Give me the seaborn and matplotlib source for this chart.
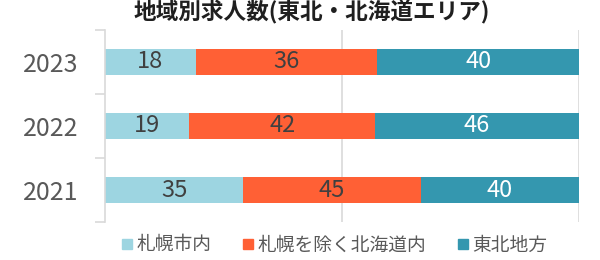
import matplotlib
matplotlib.use("Agg")
import matplotlib.pyplot as plt
import seaborn as sns
import pandas as pd
from matplotlib.lines import Line2D

years = ["2023", "2022", "2021"]
sapporo = [18, 19, 35]
hokkaido_other = [36, 42, 45]
tohoku = [40, 46, 40]
series_names = ["札幌市内", "札幌を除く北海道内", "東北地方"]
colors = ["#9DD5E1", "#FF6035", "#3497AF"]
label_colors = ["#404040", "#404040", "#FFFFFF"]
title = "地域別求人数(東北・北海道エリア)"

sns.set_theme(style="white")
plt.rcParams["font.family"] = ["Noto Sans CJK JP", "DejaVu Sans"]

df = pd.DataFrame({"year": years, "s1": sapporo, "s2": hokkaido_other, "s3": tohoku})
total = df[["s1", "s2", "s3"]].sum(axis=1)
p = df[["s1", "s2", "s3"]].div(total, axis=0) * 100
cum = p.cumsum(axis=1)
df["c1"], df["c2"], df["c3"] = cum["s1"], cum["s2"], cum["s3"]

fig = plt.figure(figsize=(6, 2.6), dpi=100)
ax = fig.add_axes([0.175, 0.146, 0.79, 0.739])

for col, c in zip(["c3", "c2", "c1"], colors[::-1]):
    sns.barplot(data=df, x=col, y="year", order=years, color=c, width=0.41,
                saturation=1, ax=ax, linewidth=0)

# labels
vals = [sapporo, hokkaido_other, tohoku]
starts = [[0] * 3, list(df["c1"]), list(df["c2"])]
ends = [list(df["c1"]), list(df["c2"]), list(df["c3"])]
for k in range(3):
    for i in range(3):
        ax.text((starts[k][i] + ends[k][i]) / 2, i, str(vals[k][i]),
                ha="center", va="center", fontsize=17, color=label_colors[k])

ax.set_xlim(0, 100)
ax.set_ylim(2.5, -0.5)
ax.set_xlabel("")
ax.set_ylabel("")
ax.set_xticks([50, 100])
ax.set_xticklabels([])
ax.tick_params(axis="x", length=0)
ax.grid(axis="x", color="#D9D9D9", linewidth=1.2)
ax.set_axisbelow(True)
for s in ["top", "right", "bottom"]:
    ax.spines[s].set_visible(False)
ax.spines["left"].set_color("#D9D9D9")
ax.spines["left"].set_linewidth(1.2)
ax.tick_params(axis="y", which="major", length=0, labelsize=18, labelcolor="#595959", pad=19)
ax.set_yticks([-0.5, 0.5, 1.5, 2.5], minor=True)
ax.tick_params(axis="y", which="minor", left=True, length=7, color="#D9D9D9", width=1.2)

fig.text(0.52, 0.952, title, ha="center", va="center", fontsize=16.3,
         fontweight="bold", color="#1F1F1F")

handles = [Line2D([], [], marker="s", linestyle="none", markersize=6.5,
                  markerfacecolor=c, markeredgecolor=c) for c in colors]
fig.legend(handles, series_names, loc="center", bbox_to_anchor=(0.555, 0.058),
           ncol=3, frameon=False, fontsize=13.5, labelcolor="#595959",
           handletextpad=0.05, columnspacing=1.5, handlelength=0.9)

fig.savefig("out.png", dpi=100)
